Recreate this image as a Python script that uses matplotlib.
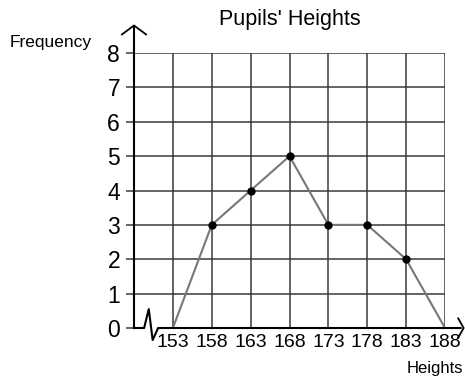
import numpy as np
import matplotlib.pyplot as plt

plt.rcParams['font.family'] = ['Liberation Sans', 'DejaVu Sans']

heights = [153, 158, 163, 168, 173, 178, 183, 188]
frequency = [0, 3, 4, 5, 3, 3, 2, 0]
freq_ticks = [0, 1, 2, 3, 4, 5, 6, 7, 8]

fig = plt.figure(figsize=(4.65, 3.85), dpi=100)
ax = fig.add_axes([134 / 465, 57 / 385, 311 / 465, 275 / 385])
ax.set_xlim(148, 188)
ax.set_ylim(0, 8)

grid_col = '#3a3a3a'
# grid
for h in heights:
    ax.plot([h, h], [0, 8], color=grid_col, lw=1.1, zorder=1)
for f in freq_ticks[1:]:
    ax.plot([148, 188], [f, f], color=grid_col, lw=1.1, zorder=1)

# frequency polygon
ax.plot(heights, frequency, color='#777777', lw=1.5, zorder=2)
ax.plot(heights[1:-1], frequency[1:-1], 'o', color='black', ms=5, zorder=3)

# axes with arrows and the broken-scale zigzag
for s in ax.spines.values():
    s.set_visible(False)
ax.plot([148, 148], [0, 8.8], color='black', lw=1.5, clip_on=False, zorder=4)
ax.plot([146.45, 148, 149.55], [8.54, 8.8, 8.54], color='black', lw=1.3,
        clip_on=False, zorder=4)
zig_x = [148, 149.3, 149.9, 150.4, 151.1, 190.0]
zig_y = [0, 0, 0.55, -0.35, 0, 0]
ax.plot(zig_x, zig_y, color='black', lw=1.5, clip_on=False, zorder=4)
ax.plot([189.7, 190.4, 189.7], [0.28, 0, -0.28], color='black', lw=1.3,
        clip_on=False, zorder=4)

ax.set_xticks(heights)
ax.set_xticklabels([str(h) for h in heights], fontsize=14)
ax.set_yticks(freq_ticks)
ax.set_yticklabels([str(f) for f in freq_ticks], fontsize=16.5)
ax.tick_params(axis='x', length=0, pad=4)
ax.tick_params(axis='y', length=6, width=1.1, color=grid_col, pad=4)

ax.set_title("Pupils' Heights", fontsize=15.5, pad=20)
fig.text(10 / 465, 1 - 43 / 385, 'Frequency', fontsize=12.5, va='center', ha='left')
fig.text(463 / 465, 1 - 368 / 385, 'Heights', fontsize=12, va='center', ha='right')

fig.savefig('out.png', dpi=100)
